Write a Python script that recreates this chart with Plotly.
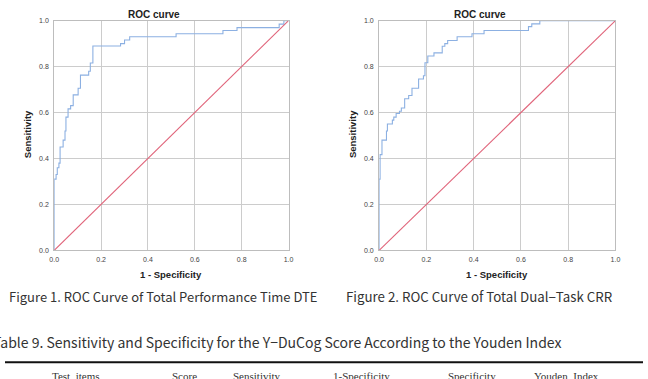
import plotly.graph_objects as go

# ROC curve 1: Total Performance Time DTE (step corners: x = 1-specificity, y = sensitivity)
roc1_fpr = [0.0, 0.0, 0.008, 0.013, 0.02, 0.025, 0.038, 0.046, 0.05, 0.059, 0.07, 0.081,
            0.102, 0.112, 0.147, 0.154, 0.165, 0.283, 0.30, 0.322, 0.52, 0.72, 0.78,
            0.96, 0.98, 1.0]
roc1_tpr = [0.0, 0.31, 0.33, 0.36, 0.38, 0.45, 0.48, 0.52, 0.58, 0.616, 0.63, 0.677,
            0.706, 0.763, 0.78, 0.816, 0.89, 0.90, 0.916, 0.93, 0.943, 0.957, 0.97,
            0.985, 1.0, 1.0]

# ROC curve 2: Total Dual-Task CRR
roc2_fpr = [0.0, 0.0, 0.004, 0.012, 0.031, 0.035, 0.056, 0.062, 0.072, 0.086, 0.094,
            0.108, 0.125, 0.139, 0.167, 0.1875, 0.194, 0.206, 0.232, 0.267, 0.278,
            0.29, 0.33, 0.393, 0.444, 0.632, 0.646, 0.68, 1.0]
roc2_tpr = [0.0, 0.31, 0.417, 0.48, 0.52, 0.55, 0.567, 0.58, 0.596, 0.606, 0.62,
            0.66, 0.674, 0.706, 0.746, 0.76, 0.817, 0.846, 0.86, 0.889, 0.90,
            0.914, 0.93, 0.943, 0.957, 0.974, 0.986, 1.0, 1.0]

ref_line = [0.0, 1.0]
tick_vals = [0.0, 0.2, 0.4, 0.6, 0.8, 1.0]
tick_text = ["0.0", "0.2", "0.4", "0.6", "0.8", "1.0"]

chart_title = "ROC curve"
x_title = "1 - Specificity"
y_title = "Sensitivity"
captions = ["Figure 1. ROC Curve of Total Performance Time DTE",
            "Figure 2. ROC Curve of Total Dual\u2212Task CRR"]
table_title = "Table 9. Sensitivity and Specificity for the Y\u2212DuCog Score According to the Youden Index"
table_headers = ["Test  items", "Score", "Sensitivity", "1-Specificity", "Specificity", "Youden  Index"]

W, H = 648, 379
def px(x): return x / W
def py(y): return 1 - y / H

BLUE = "#8cb0e2"
RED = "#e0647a"
GRID = "#cccccc"
AXC = "#bdbdbd"
SANS = "Liberation Sans, Arial, sans-serif"

fig = go.Figure()
fig.add_trace(go.Scatter(x=roc1_fpr, y=roc1_tpr, mode="lines", line=dict(color=BLUE, width=1.1, shape="hv"),
                         xaxis="x", yaxis="y", showlegend=False, hoverinfo="skip"))
fig.add_trace(go.Scatter(x=ref_line, y=ref_line, mode="lines", line=dict(color=RED, width=1.1),
                         xaxis="x", yaxis="y", showlegend=False, hoverinfo="skip"))
fig.add_trace(go.Scatter(x=roc2_fpr, y=roc2_tpr, mode="lines", line=dict(color=BLUE, width=1.1, shape="hv"),
                         xaxis="x2", yaxis="y2", showlegend=False, hoverinfo="skip"))
fig.add_trace(go.Scatter(x=ref_line, y=ref_line, mode="lines", line=dict(color=RED, width=1.1),
                         xaxis="x2", yaxis="y2", showlegend=False, hoverinfo="skip"))

axis_common = dict(range=[0, 1], tickvals=tick_vals, ticktext=tick_text, showgrid=True, gridcolor=GRID,
                   gridwidth=1, zeroline=False, showline=True, linecolor=AXC, linewidth=1, mirror=True,
                   ticks="", tickfont=dict(family=SANS, size=7, color="#444444"), fixedrange=True)

yd = [py(251), py(17)]
fig.update_layout(
    width=W, height=H, margin=dict(l=0, r=0, t=0, b=0),
    paper_bgcolor="white", plot_bgcolor="white",
    xaxis=dict(domain=[px(50), px(288)], anchor="y", ticklabelstandoff=2, **axis_common),
    yaxis=dict(domain=yd, anchor="x", ticklabelstandoff=3, **axis_common),
    xaxis2=dict(domain=[px(380), px(620)], anchor="y2", ticklabelstandoff=2, **axis_common),
    yaxis2=dict(domain=yd, anchor="x2", ticklabelstandoff=3, **axis_common),
)

def A(text, x, y, size, family=SANS, color="#222222", xanchor="center", yanchor="middle", angle=0):
    return dict(text=text, x=px(x), y=py(y), xref="paper", yref="paper", xanchor=xanchor,
                yanchor=yanchor, showarrow=False, textangle=angle, borderpad=0,
                font=dict(family=family, size=size, color=color))

ann = []
for cx, lx in [(151, 169), (482, 500)]:
    ann.append(A("<b>%s</b>" % chart_title, cx, 11, 10))
    ann.append(A("<b>%s</b>" % x_title, lx, 276, 9.5))
for ox in [23, 353]:
    ann.append(A("<b>%s</b>" % y_title, ox, 133, 9.5, angle=-90))

CJK = "Noto Sans CJK KR, sans-serif"
ann.append(A(captions[0], 3, 298, 13.0, family=CJK, color="#333333", xanchor="left"))
ann.append(A(captions[1], 345, 298, 13.3, family=CJK, color="#333333", xanchor="left"))
ann.append(A(table_title, -13, 344, 14.0, family=CJK, color="#333333", xanchor="left"))

for cx, t in zip([72, 182, 256, 362, 474, 570], table_headers):
    ann.append(A(t, cx, 372, 11, family="Liberation Serif, serif", color="#333333", yanchor="top"))

fig.update_layout(annotations=ann)
fig.add_shape(type="line", xref="paper", yref="paper", x0=0, x1=1, y0=py(365), y1=py(365),
              line=dict(color="#111111", width=2))

fig.write_html("out.html")
